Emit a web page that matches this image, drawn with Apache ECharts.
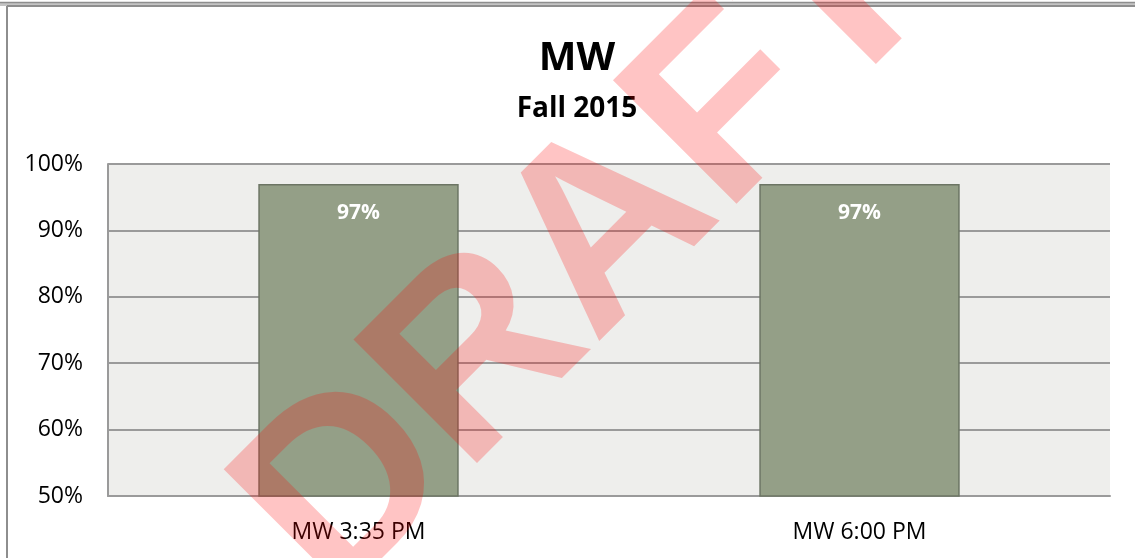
<!DOCTYPE html>
<html>
<head>
<meta charset="utf-8">
<script src="https://cdn.jsdelivr.net/npm/echarts@6/dist/echarts.min.js"></script>
<style>
    html, body { margin: 0; padding: 0; background: #fff; }
    #chart { width: 1135px; height: 558px; }
</style>
</head>
<body>
<div id="chart"></div>
<script>
var categories = ['MW 3:35 PM', 'MW 6:00 PM'];
var values = [97, 97];
var yTicks = [50, 60, 70, 80, 90, 100];

var font = '"Open Sans", "Noto Sans", sans-serif';
var myChart = echarts.init(document.getElementById('chart'));
var option = {
    backgroundColor: '#fff',
    animation: false,
    title: {
        text: 'MW',
        subtext: 'Fall 2015',
        left: 572,
        top: 34,
        textAlign: 'center',
        itemGap: 16,
        textStyle: { fontFamily: font, fontSize: 40, fontWeight: 'bold', color: '#000' },
        subtextStyle: { fontFamily: font, fontSize: 28, fontWeight: 'bold', color: '#000' }
    },
    grid: {
        left: 108,
        right: 25,
        top: 164,
        bottom: 62,
        show: true,
        backgroundColor: '#eeeeec',
        borderWidth: 0
    },
    xAxis: {
        type: 'category',
        data: categories,
        axisTick: { show: false },
        axisLine: { lineStyle: { color: '#9a9a9a', width: 2 } },
        axisLabel: { fontFamily: font, fontSize: 23, color: '#000', margin: 25 }
    },
    yAxis: {
        type: 'value',
        min: yTicks[0],
        max: yTicks[yTicks.length - 1],
        interval: 10,
        axisLine: { show: true, lineStyle: { color: '#9a9a9a', width: 2 } },
        axisTick: { show: false },
        splitLine: { lineStyle: { color: '#9a9a9a', width: 2 } },
        axisLabel: { fontFamily: font, fontSize: 23, color: '#000', margin: 25, formatter: '{value}%' }
    },
    series: [{
        type: 'bar',
        data: values,
        barWidth: '40%',
        itemStyle: { color: '#949f87', borderColor: '#6c7564', borderWidth: 1.5 },
        label: {
            show: true,
            position: 'insideTop',
            distance: 19,
            formatter: '{c}%',
            color: '#fff',
            fontFamily: font,
            fontSize: 21,
            fontWeight: 'bold'
        }
    }],
    graphic: [
        // frame lines
        { type: 'rect', shape: { x: 0, y: 2, width: 1135, height: 4 }, style: { fill: '#c4c4c4' }, z: 90 },
        { type: 'line', shape: { x1: 0, y1: 2.5, x2: 1135, y2: 2.5 }, style: { stroke: '#8e8e8e', lineWidth: 1.5 }, z: 91 },
        { type: 'line', shape: { x1: 7, y1: 6, x2: 1135, y2: 6 }, style: { stroke: '#8e8e8e', lineWidth: 2 }, z: 91 },
        { type: 'line', shape: { x1: 7, y1: 6, x2: 7, y2: 558 }, style: { stroke: '#8e8e8e', lineWidth: 2 }, z: 91 },
        // watermark
        {
            type: 'text',
            x: 590,
            y: 251,
            rotation: Math.PI / 4,
            z: 100,
            style: {
                text: 'DRAFT',
                font: 'bold 254px "Liberation Sans", sans-serif',
                fill: 'rgba(255,0,0,0.23)',
                textAlign: 'center',
                textVerticalAlign: 'middle'
            }
        }
    ]
};
myChart.setOption(option);
</script>
</body>
</html>
